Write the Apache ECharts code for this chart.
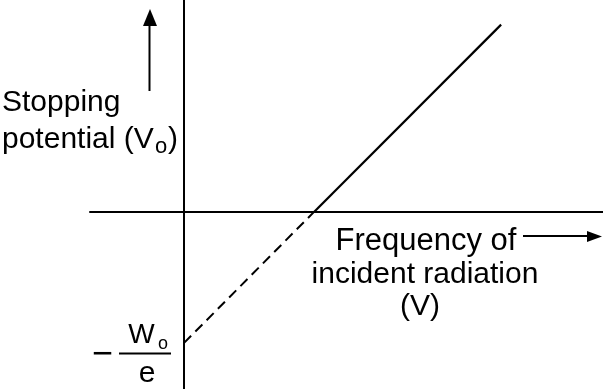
<!DOCTYPE html>
<html><head><meta charset="utf-8">
<script src="https://cdn.jsdelivr.net/npm/echarts@6/dist/echarts.min.js"></script>
<style>html,body{margin:0;padding:0;background:#fff}#c{width:603px;height:389px}</style>
</head><body><div id="c"></div>
<script>
// Schematic data (arbitrary units): threshold frequency nu0 = 5, W0/e = 5
const extrapolatedFreq = [0, 5];
const extrapolatedPotential = [-5, 0];
const measuredFreq = [5, 12.2];
const measuredPotential = [0, 7.15];
const yLabelLines = ['Stopping', 'potential (V', 'o', ')'];
const xLabelLines = ['Frequency of', 'incident radiation', '(V)'];
const interceptLabel = ['−', 'W', 'o', 'e'];

const font = '"Liberation Sans", Arial, sans-serif';
const chart = echarts.init(document.getElementById('c'));
const pairs = (xs, ys) => xs.map((x, i) => [x, ys[i]]);
function txt(x, y, s, size, align) {
  return { type: 'text', x, y, style: { text: s, font: size + 'px ' + font, fill: '#000', align: align || 'left', verticalAlign: 'middle' } };
}
chart.setOption({
  animation: false,
  grid: { left: 90, right: 0, top: 0, bottom: 0 },
  xAxis: { type: 'value', min: -3.62, max: 16.12,
    axisLine: { onZero: true, lineStyle: { color: '#000', width: 2 } },
    axisTick: { show: false }, axisLabel: { show: false }, splitLine: { show: false } },
  yAxis: { type: 'value', min: -6.76, max: 8.09,
    axisLine: { onZero: true, lineStyle: { color: '#000', width: 2 } },
    axisTick: { show: false }, axisLabel: { show: false }, splitLine: { show: false } },
  series: [
    { type: 'line', data: pairs(extrapolatedFreq, extrapolatedPotential), showSymbol: false,
      lineStyle: { color: '#000', width: 2, type: [10, 6] } },
    { type: 'line', data: pairs(measuredFreq, measuredPotential), showSymbol: false,
      lineStyle: { color: '#000', width: 2.2 } }
  ],
  graphic: [
    txt(2, 102.5, yLabelLines[0], 30),
    txt(2, 139.5, yLabelLines[1], 30),
    txt(155, 147, yLabelLines[2], 22),
    txt(168, 139.5, yLabelLines[3], 30),
    txt(426, 241.5, xLabelLines[0], 31, 'center'),
    txt(425, 274.5, xLabelLines[1], 30, 'center'),
    txt(420, 306.5, xLabelLines[2], 30, 'center'),
    txt(102.5, 355, interceptLabel[0], 36, 'center'),
    txt(141.5, 335, interceptLabel[1], 28, 'center'),
    txt(163, 344, interceptLabel[2], 18, 'center'),
    txt(147, 374, interceptLabel[3], 30, 'center'),
    { type: 'line', shape: { x1: 119, y1: 353.5, x2: 171, y2: 353.5 }, style: { stroke: '#000', lineWidth: 2 } },
    { type: 'line', shape: { x1: 149.5, y1: 91, x2: 149.5, y2: 24 }, style: { stroke: '#000', lineWidth: 2 } },
    { type: 'polygon', shape: { points: [[143, 26], [157, 26], [150, 9]] }, style: { fill: '#000' } },
    { type: 'line', shape: { x1: 523, y1: 236, x2: 589, y2: 236 }, style: { stroke: '#000', lineWidth: 2 } },
    { type: 'polygon', shape: { points: [[587, 231], [587, 242], [602, 236.5]] }, style: { fill: '#000' } }
  ]
});
</script></body></html>
